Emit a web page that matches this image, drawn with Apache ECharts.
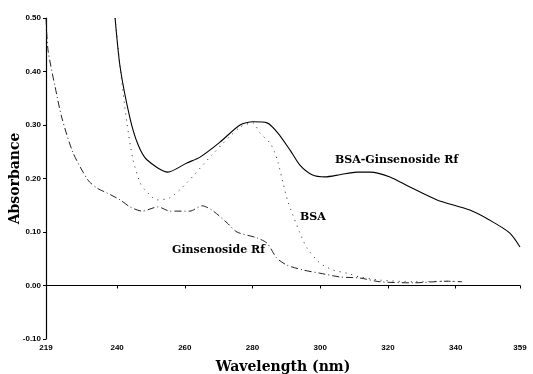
<!DOCTYPE html>
<html>
<head>
<meta charset="utf-8">
<script src="https://cdn.jsdelivr.net/npm/echarts@6/dist/echarts.min.js"></script>
<style>
  html, body { margin: 0; padding: 0; background: #fff; }
  #chart { width: 533px; height: 374px; }
</style>
</head>
<body>
<div id="chart"></div>
<script>
// wavelength (nm) / absorbance
const mixWave = [239.4, 240.9, 243.8, 246.2, 248.8, 255.0, 260.6, 264.5, 270.4, 276.3, 280.1, 284.3, 287.5, 291.1, 294.0, 297.6, 301.4, 305.8, 310.8, 314.7, 320.6, 326.5, 334.5, 344.2, 350.1, 356.0, 359.0];
const mixAbs  = [0.500, 0.408, 0.313, 0.263, 0.235, 0.212, 0.229, 0.240, 0.268, 0.300, 0.306, 0.304, 0.285, 0.253, 0.225, 0.207, 0.203, 0.207, 0.212, 0.212, 0.203, 0.184, 0.160, 0.141, 0.122, 0.098, 0.072];

const bsaWave = [239.4, 240.9, 242.9, 244.7, 246.8, 248.2, 251.8, 255.6, 260.6, 268.0, 276.3, 280.1, 282.2, 285.2, 286.6, 287.5, 289.0, 290.5, 294.0, 296.1, 299.9, 303.8, 307.9, 311.7, 317.6, 327.4, 337.4, 341.9];
const bsaAbs  = [0.500, 0.408, 0.304, 0.235, 0.192, 0.179, 0.160, 0.164, 0.192, 0.244, 0.296, 0.304, 0.285, 0.266, 0.248, 0.231, 0.192, 0.156, 0.098, 0.070, 0.042, 0.029, 0.023, 0.016, 0.010, 0.007, 0.008, 0.007];

const rfWave = [219.0, 219.6, 221.7, 223.7, 227.0, 231.4, 234.1, 237.0, 240.9, 243.8, 247.4, 252.1, 255.6, 261.5, 265.1, 268.0, 272.5, 275.4, 281.3, 284.3, 287.2, 290.2, 294.9, 299.9, 305.8, 311.7, 317.6, 327.4, 337.4, 341.9];
const rfAbs  = [0.500, 0.440, 0.371, 0.313, 0.248, 0.197, 0.182, 0.173, 0.160, 0.147, 0.139, 0.147, 0.139, 0.139, 0.149, 0.141, 0.117, 0.100, 0.089, 0.079, 0.051, 0.038, 0.029, 0.023, 0.016, 0.014, 0.007, 0.005, 0.008, 0.007];

const xTicks = [219, 240, 260, 280, 300, 320, 340, 359];

const pairs = (xs, ys) => xs.map((x, i) => [x, ys[i]]);

const chart = echarts.init(document.getElementById('chart'));

const labelFont = {
  fontFamily: 'DejaVu Serif',
  fontWeight: 'bold',
  fontSize: 11,
  fill: '#000'
};

chart.setOption({
  animation: false,
  backgroundColor: '#fff',
  grid: { left: 46, right: 13, top: 18, bottom: 35, containLabel: false, outerBoundsMode: 'none' },
  xAxis: {
    type: 'value',
    min: 219,
    max: 359,
    name: 'Wavelength (nm)',
    nameLocation: 'middle',
    nameGap: 21,
    nameMoveOverlap: false,
    nameTextStyle: { fontFamily: 'DejaVu Serif', fontWeight: 'bold', fontSize: 14, color: '#000' },
    axisLine: { lineStyle: { color: '#000', width: 1 } },
    axisTick: { customValues: xTicks, length: 3, lineStyle: { color: '#000' } },
    axisLabel: {
      customValues: xTicks,
      fontFamily: 'Liberation Sans',
      fontWeight: 'bold',
      fontSize: 8,
      color: '#000',
      margin: 5
    },
    splitLine: { show: false }
  },
  yAxis: {
    type: 'value',
    min: -0.1,
    max: 0.5,
    interval: 0.1,
    name: 'Absorbance',
    nameLocation: 'middle',
    nameGap: 24,
    nameMoveOverlap: false,
    nameRotate: 90,
    nameTextStyle: { fontFamily: 'DejaVu Serif', fontWeight: 'bold', fontSize: 14, color: '#000' },
    axisLine: { show: true, lineStyle: { color: '#000', width: 1.2 } },
    axisTick: { show: true, length: 3, lineStyle: { color: '#000' } },
    axisLabel: {
      formatter: v => v.toFixed(2),
      fontFamily: 'Liberation Sans',
      fontWeight: 'bold',
      fontSize: 8,
      color: '#000',
      margin: 5
    },
    splitLine: { show: false }
  },
  series: [
    {
      name: 'BSA-Ginsenoside Rf',
      type: 'line',
      data: pairs(mixWave, mixAbs),
      showSymbol: false,
      smooth: 0.25,
      lineStyle: { color: '#000', width: 1.1 }
    },
    {
      name: 'BSA',
      type: 'line',
      data: pairs(bsaWave, bsaAbs),
      showSymbol: false,
      smooth: 0.25,
      lineStyle: { color: '#222', width: 1, type: [1, 5] }
    },
    {
      name: 'Ginsenoside Rf',
      type: 'line',
      data: pairs(rfWave, rfAbs),
      showSymbol: false,
      smooth: 0.25,
      lineStyle: { color: '#222', width: 1, type: [7, 3, 1, 3] }
    }
  ],
  graphic: [
    { type: 'text', left: 335, top: 155, style: Object.assign({ text: 'BSA-Ginsenoside Rf' }, labelFont) },
    { type: 'text', left: 300, top: 212, style: Object.assign({ text: 'BSA' }, labelFont) },
    { type: 'text', left: 172, top: 245, style: Object.assign({ text: 'Ginsenoside Rf' }, labelFont) }
  ]
});
</script>
</body>
</html>
